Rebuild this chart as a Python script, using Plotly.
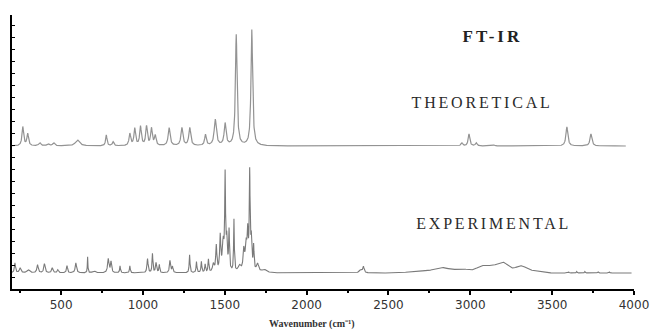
import numpy as np
import plotly.graph_objects as go

# ---- data (positions in cm-1, amplitudes / widths) ----
theo_baseline = 143
theo_pos = [266, 296, 370, 420, 455, 600, 776, 818, 920, 950, 985, 1022, 1052, 1075,
            1160, 1238, 1286, 1382, 1442, 1502, 1570, 1665, 2948, 2992, 3036, 3145, 3590, 3737]
theo_amp = [19, 12, 3, 2, 3, 6, 11, 4, 12, 17, 19, 19, 17, 10,
            18, 18, 18, 11, 26, 22, 111, 116, 3, 12, 3, 1, 19, 12]
theo_hw = [6, 6, 8, 8, 8, 15, 5, 6, 6, 6, 6, 6, 6, 6,
           7, 7, 7, 6, 8, 7, 6, 6, 6, 6, 6, 6, 7, 7]

exp_baseline = 16
exp_pos = [218, 250, 300, 356, 398, 446, 480, 536, 590, 662, 700, 788, 805, 860, 920,
           1028, 1058, 1080, 1100, 1165, 1180, 1285, 1327, 1357, 1380, 1400, 1430, 1448,
           1472, 1490, 1502, 1512, 1526, 1556, 1590, 1616, 1630, 1640, 1652, 1662, 1676,
           1700, 1740, 2330, 2347, 3600, 3650, 3700, 3780, 3850]
exp_amp = [10, 5, 3, 8, 9, 5, 3, 7, 10, 16, 2, 14, 11, 7, 7,
           14, 19, 10, 8, 12, 6, 18, 11, 11, 8, 13, 8, 26,
           35, 28, 92, 30, 40, 52, 6, 20, 25, 35, 95, 30, 24,
           8, 3, 3, 6, 1, 1.5, 1.5, 1.5, 1]
exp_hw = [4, 6, 10, 5, 5, 5, 5, 4, 5, 2, 10, 5, 4, 3, 3,
          4, 3, 4, 3, 4, 4, 3, 3, 3, 3, 3, 6, 4,
          4, 6, 3, 4, 3, 2.5, 10, 5, 6, 4, 3, 4, 3,
          8, 15, 10, 5, 4, 3, 3, 3, 3]
# broad O-H / N-H envelope (gaussian bands)
exp_broad_pos = [2700, 2828, 2950, 3068, 3130, 3200, 3308, 3400]
exp_broad_amp = [2, 5, 4, 6, 5, 10, 7, 2]
exp_broad_sd = [70, 45, 45, 35, 35, 35, 35, 40]

theo_range = (200, 3950)
exp_range = (200, 3985)


def lorentz_sum(x, pos, amp, hw):
    y = np.zeros_like(x)
    for p, a, w in zip(pos, amp, hw):
        y += a / (1 + ((x - p) / w) ** 2)
    return y


def gauss_sum(x, pos, amp, sd):
    y = np.zeros_like(x)
    for p, a, s in zip(pos, amp, sd):
        y += a * np.exp(-0.5 * ((x - p) / s) ** 2)
    return y


xt = np.arange(theo_range[0], theo_range[1] + 1, 1.0)
yt = theo_baseline + lorentz_sum(xt, theo_pos, theo_amp, theo_hw)
xe = np.arange(exp_range[0], exp_range[1] + 1, 1.0)
ye = exp_baseline + lorentz_sum(xe, exp_pos, exp_amp, exp_hw) + gauss_sum(xe, exp_broad_pos, exp_broad_amp, exp_broad_sd)

fig = go.Figure()
fig.add_trace(go.Scatter(x=xt, y=yt, mode="lines", line=dict(color="#939393", width=1.2),
                         showlegend=False, hoverinfo="skip"))
fig.add_trace(go.Scatter(x=xe, y=ye, mode="lines", line=dict(color="#7a7a7a", width=1.1),
                         showlegend=False, hoverinfo="skip"))

serif = "Liberation Serif, Times New Roman, serif"
fig.add_annotation(x=3138, y=253, text="<b>FT-IR</b>", showarrow=False,
                   font=dict(family=serif, size=17, color="#222"))
fig.add_annotation(x=3072, y=187, text="THEORETICAL", showarrow=False,
                   font=dict(family=serif, size=16, color="#2a2a2a"))
fig.add_annotation(x=3144, y=66, text="EXPERIMENTAL", showarrow=False,
                   font=dict(family=serif, size=16, color="#2a2a2a"))
fig.add_annotation(x=0.482, y=0, xref="paper", yref="paper", yshift=-35, yanchor="middle",
                   text="<b>Wavenumber (cm⁻¹)</b>", showarrow=False,
                   font=dict(family=serif, size=10, color="#333"))

fig.update_xaxes(range=[200, 4000], showline=True, linecolor="black", linewidth=1.5,
                 ticks="outside", ticklen=4, tickwidth=1.5, tickcolor="black",
                 tick0=500, dtick=500, showgrid=False, zeroline=False,
                 tickfont=dict(family="DejaVu Sans, sans-serif", size=12, color="#333"),
                 minor=dict(ticks="outside", ticklen=2, tick0=250, dtick=250, tickcolor="black"))
fig.update_yaxes(range=[0, 274], showline=True, linecolor="black", linewidth=2,
                 ticks="inside", ticklen=3, tickcolor="black", tick0=0, dtick=12,
                 showticklabels=False, showgrid=False, zeroline=False)
fig.update_layout(width=661, height=332, margin=dict(l=12, r=18, t=15, b=43),
                  plot_bgcolor="white", paper_bgcolor="white")

post = """
document.body.style.margin='0';
document.querySelectorAll('text.annotation-text').forEach(function(t){
  var s = t.textContent;
  if (s === 'THEORETICAL' || s === 'EXPERIMENTAL') { t.style.letterSpacing = '2.8px'; }
  if (s === 'FT-IR') { t.style.letterSpacing = '3px'; }
});
"""
fig.write_html("out.html", post_script=post, config={"displayModeBar": False})
